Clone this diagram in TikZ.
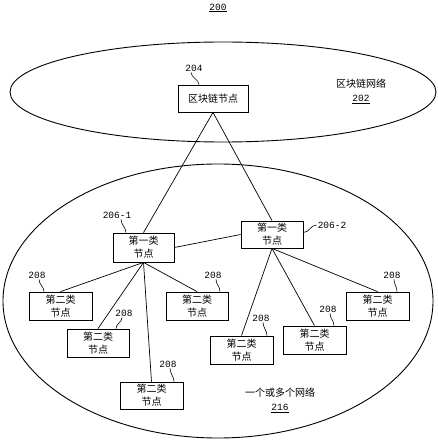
\documentclass[tikz,border=0pt]{standalone}
\usepackage{fontspec}
\setmainfont{Liberation Mono}
\newfontfamily\cjk{Noto Sans CJK SC}
\begin{document}
\begin{tikzpicture}[x=1pt,y=-1pt,
  box/.style={draw,line width=0.8pt,minimum width=62pt,minimum height=28pt,inner sep=0pt,align=center,font=\cjk\fontsize{10}{13}\selectfont},
  num/.style={inner sep=0pt,font=\fontsize{9.5}{11}\selectfont},
  lbl/.style={inner sep=0pt,align=center,font=\cjk\fontsize{10}{14}\selectfont},
  link/.style={line width=0.7pt},
  sq/.style={line width=0.6pt},
  net/.style={line width=0.9pt}]
\useasboundingbox (0,0) rectangle (437,443);
\node[num] (n200) at (218,8) {\underline{200}};
\draw[net] (223,92) ellipse [x radius=213, y radius=50];
\draw[net] (218,301) ellipse [x radius=215, y radius=137];
\node[lbl] (bcn) at (361,91) {区块链网络\\{\rmfamily\fontsize{9.5}{11}\selectfont\underline{202}}};
\node[lbl] (onet) at (280,400) {一个或多个网络\\{\rmfamily\fontsize{9.5}{11}\selectfont\underline{216}}};

\node[box,minimum width=70pt,minimum height=27pt] (bc) at (213,98.5) {区块链节点};
\node[box,minimum width=61pt,minimum height=29pt] (t1) at (143.5,247.5) {第一类\\节点};
\node[box,minimum height=27pt] (t2) at (272,234.5) {第一类\\节点};
\node[box,minimum width=63pt] (a) at (60.5,306) {第二类\\节点};
\node[box] (b) at (98,343) {第二类\\节点};
\node[box,minimum width=63pt,minimum height=27pt] (c) at (151.5,395.5) {第二类\\节点};
\node[box] (d) at (197,306) {第二类\\节点};
\node[box,minimum width=63pt] (e) at (241.5,350) {第二类\\节点};
\node[box,minimum width=63pt] (f) at (314.5,340) {第二类\\节点};
\node[box,minimum width=63pt] (g) at (377.5,306) {第二类\\节点};

\draw[link] (bc.south) -- (t1.north);
\draw[link] (bc.south) -- (t2.north);
\draw[link] (t1.east) -- (t2.west);
\foreach \x in {a,b,c,d} \draw[link] (t1.south) -- (\x.north);
\foreach \x in {e,f,g} \draw[link] (t2.south) -- (\x.north);

\node[num] (l204) at (194,68) {204};
\node[num] (l2061) at (117,215) {206-1};
\node[num] (l2062) at (332,225) {206-2};
\node[num] (la) at (37,275) {208};
\node[num] (lb) at (124,313) {208};
\node[num] (lc) at (168,364) {208};
\node[num] (ld) at (213,275) {208};
\node[num] (le) at (261,318) {208};
\node[num] (lf) at (328,309) {208};
\node[num] (lg) at (392,275) {208};

\draw[sq] ([xshift=-3pt,yshift=-1pt]l204.south) .. controls +(0,5) and +(0,-5) .. ([xshift=-14pt]bc.north);
\draw[sq] ([xshift=4pt,yshift=-1pt]l2061.south) .. controls +(0,5) and +(0,-5) .. ([xshift=-17.5pt]t1.north);
\draw[sq] ([xshift=-1pt]l2062.west) .. controls +(-6,0) and +(6,0) .. ([yshift=2pt]t2.east);
\draw[sq] ([xshift=2pt,yshift=-1pt]la.south) .. controls +(0,5) and +(0,-5) .. ([xshift=-16.5pt]a.north);
\draw[sq] ([xshift=-2pt,yshift=-1pt]lb.south) .. controls +(0,5) and +(0,-5) .. ([xshift=18pt]b.north);
\draw[sq] ([xshift=2pt,yshift=-1pt]lc.south) .. controls +(0,5) and +(0,-5) .. ([xshift=22.5pt]c.north);
\draw[sq] ([xshift=3pt,yshift=-1pt]ld.south) .. controls +(0,5) and +(0,-5) .. ([xshift=23pt]d.north);
\draw[sq] ([xshift=2pt,yshift=-1pt]le.south) .. controls +(0,5) and +(0,-5) .. ([xshift=25.5pt]e.north);
\draw[sq] ([xshift=2pt,yshift=-1pt]lf.south) .. controls +(0,5) and +(0,-5) .. ([xshift=19.5pt]f.north);
\draw[sq] ([xshift=2pt,yshift=-1pt]lg.south) .. controls +(0,5) and +(0,-5) .. ([xshift=19.5pt]g.north);
\end{tikzpicture}
\end{document}
